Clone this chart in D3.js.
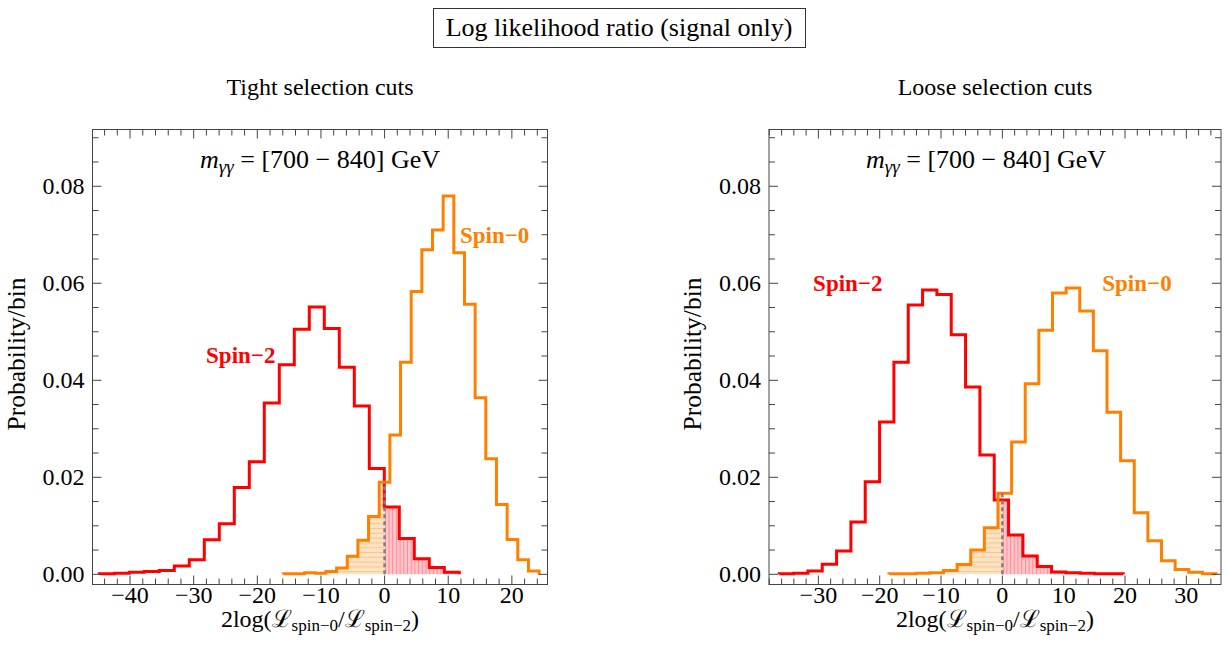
<!DOCTYPE html>
<html>
<head>
<meta charset="utf-8">
<script src="https://cdn.jsdelivr.net/npm/d3@7"></script>
<style>
body { margin: 0; background: #fff; }
text { font-family: "Liberation Serif", "Times New Roman", serif; }
</style>
</head>
<body>
<script>
// histogram bins: [first edge, bin width], then probability per bin
const tightSpin2Bins = [-44.83, 2.357];
const tightSpin2 = [0.0001, 0.0002, 0.0004, 0.0006, 0.0008, 0.0017, 0.0030, 0.0071, 0.0104, 0.0179, 0.0232, 0.0353,
  0.0432, 0.0505, 0.0551, 0.0507, 0.0427, 0.0347, 0.0218, 0.0139, 0.0074, 0.0032, 0.0014, 0.0004];
const tightSpin0Bins = [-15.92, 1.675];
const tightSpin0 = [0.0001, 0.0001, 0.0003, 0.0002, 0.0006, 0.0013, 0.0037, 0.0070, 0.0119, 0.0190, 0.0287, 0.0437,
  0.0583, 0.0669, 0.0710, 0.0780, 0.0663, 0.0557, 0.0364, 0.0238, 0.0144, 0.0072, 0.0030, 0.0007];
const looseSpin2Bins = [-36.38, 2.337];
const looseSpin2 = [0.0001, 0.0002, 0.0007, 0.0021, 0.0048, 0.0108, 0.0191, 0.0314, 0.0437, 0.0555, 0.0586, 0.0577,
  0.0494, 0.0386, 0.0246, 0.0153, 0.0081, 0.0038, 0.0016, 0.0005, 0.0003, 0.0002, 0.0001, 0.0001];
const looseSpin0Bins = [-18.49, 2.222];
const looseSpin0 = [0.0001, 0.0001, 0.0002, 0.0003, 0.0008, 0.0020, 0.0050, 0.0096, 0.0167, 0.0273, 0.0393, 0.0503,
  0.0580, 0.0590, 0.0543, 0.0461, 0.0334, 0.0234, 0.0127, 0.0069, 0.0028, 0.0010, 0.0004, 0.0001];

const yTicks = [0, 0.02, 0.04, 0.06, 0.08];
const tightXTicks = [-40, -30, -20, -10, 0, 10, 20];
const looseXTicks = [-30, -20, -10, 0, 10, 20, 30];

const width = 1227, height = 650;
const red = "#ff0000", orange = "#ff8000";

const svg = d3.select("body").append("svg")
  .attr("width", width)
  .attr("height", height);

//Hatch patterns for the shaded overlap.
const defs = svg.append("defs");
const pOr = defs.append("pattern").attr("id", "hatchOrange")
  .attr("patternUnits", "userSpaceOnUse").attr("width", 8).attr("height", 4.8);
pOr.append("rect").attr("width", 8).attr("height", 4.8).attr("fill", "#fde2c4");
pOr.append("rect").attr("y", 0).attr("width", 8).attr("height", 1).attr("fill", "#f9c48c");
const pRd = defs.append("pattern").attr("id", "hatchRed")
  .attr("patternUnits", "userSpaceOnUse").attr("width", 3.7).attr("height", 8);
pRd.append("rect").attr("width", 3.7).attr("height", 8).attr("fill", "#ffc6ca");
pRd.append("rect").attr("x", 0).attr("width", 1).attr("height", 8).attr("fill", "#ff8a94");

//Title box.
svg.append("text")
  .attr("x", 619).attr("y", 36)
  .attr("text-anchor", "middle")
  .style("font-size", "26px")
  .text("Log likelihood ratio (signal only)");
svg.append("rect")
  .attr("x", 433.5).attr("y", 8.5).attr("width", 372).attr("height", 39)
  .attr("fill", "none").attr("stroke", "#333").attr("stroke-width", 1);

const panels = [
  { id: "t", name: "Tight selection cuts", left: 92.5, right: 547.5, xDomain: [-45.9, 25.6], xTicks: tightXTicks,
    s2: tightSpin2, s2Bins: tightSpin2Bins, s0: tightSpin0, s0Bins: tightSpin0Bins,
    massX: 320, lab2: [-22.6, 0.0452], lab0: [17.3, 0.070] },
  { id: "l", name: "Loose selection cuts", left: 769, right: 1221, xDomain: [-38.05, 35.65], xTicks: looseXTicks,
    s2: looseSpin2, s2Bins: looseSpin2Bins, s0: looseSpin0, s0Bins: looseSpin0Bins,
    massX: 986, lab2: [-25.2, 0.060], lab0: [21.95, 0.060] }
];

const plotTop = 129.5, plotBottom = 584.5;

function steps(bins, probs) {
  const pts = [[bins[0], 0]];
  probs.forEach((p, i) => pts.push([bins[0] + i * bins[1], p]));
  pts.push([bins[0] + probs.length * bins[1], 0]);
  return pts;
}

panels.forEach((p) => {
  const x = d3.scaleLinear().domain(p.xDomain).range([p.left, p.right]);
  const y = d3.scaleLinear().domain([-0.0021, 0.0917]).range([plotBottom, plotTop]);
  const cx = (p.left + p.right) / 2;
  const g = svg.append("g");

  g.append("text").attr("x", cx).attr("y", 95).attr("text-anchor", "middle")
    .style("font-size", "24px").text(p.name);

  const line = d3.line().curve(d3.curveStepAfter).x((d) => x(d[0])).y((d) => y(d[1]));
  const area = d3.area().curve(d3.curveStepAfter).x((d) => x(d[0])).y0(y(0)).y1((d) => y(d[1]));
  const pts2 = steps(p.s2Bins, p.s2);
  const pts0 = steps(p.s0Bins, p.s0);

  //Clip regions left and right of zero.
  defs.append("clipPath").attr("id", "neg" + p.id).append("rect")
    .attr("x", p.left).attr("y", plotTop).attr("width", x(0) - p.left).attr("height", plotBottom - plotTop);
  defs.append("clipPath").attr("id", "pos" + p.id).append("rect")
    .attr("x", x(0)).attr("y", plotTop).attr("width", p.right - x(0)).attr("height", plotBottom - plotTop);

  g.append("path").attr("d", area(pts0)).attr("fill", "url(#hatchOrange)")
    .attr("clip-path", `url(#neg${p.id})`);
  g.append("path").attr("d", area(pts2)).attr("fill", "url(#hatchRed)")
    .attr("clip-path", `url(#pos${p.id})`);

  g.append("path").attr("d", line(pts2)).attr("fill", "none")
    .attr("stroke", red).attr("stroke-width", 3);
  g.append("path").attr("d", line(pts0)).attr("fill", "none")
    .attr("stroke", orange).attr("stroke-width", 3);

  //Dashed marker at zero, up to the spin-0 bin height there.
  const k = Math.floor((0 - p.s0Bins[0]) / p.s0Bins[1]);
  g.append("line").attr("x1", x(0)).attr("x2", x(0)).attr("y1", y(0)).attr("y2", y(p.s0[k]))
    .attr("stroke", "#808080").attr("stroke-width", 2.5).attr("stroke-dasharray", "4,3");

  //Frame.
  g.append("rect").attr("x", p.left).attr("y", plotTop)
    .attr("width", p.right - p.left).attr("height", plotBottom - plotTop)
    .attr("fill", "none").attr("stroke", "#444").attr("stroke-width", 1);

  //Ticks on all four sides.
  const xMinor = d3.range(Math.ceil(p.xDomain[0] / 2) * 2, p.xDomain[1], 2);
  xMinor.forEach((v) => {
    const len = v % 10 === 0 ? 9 : 6;
    g.append("line").attr("x1", x(v)).attr("x2", x(v)).attr("y1", plotBottom).attr("y2", plotBottom - len)
      .attr("stroke", "#444");
    g.append("line").attr("x1", x(v)).attr("x2", x(v)).attr("y1", plotTop).attr("y2", plotTop + len)
      .attr("stroke", "#444");
  });
  const yMinor = d3.range(0, 0.0917, 0.005);
  yMinor.forEach((v, i) => {
    const len = i % 4 === 0 ? 9 : 6;
    g.append("line").attr("x1", p.left).attr("x2", p.left + len).attr("y1", y(v)).attr("y2", y(v))
      .attr("stroke", "#444");
    g.append("line").attr("x1", p.right).attr("x2", p.right - len).attr("y1", y(v)).attr("y2", y(v))
      .attr("stroke", "#444");
  });

  g.selectAll(".xl").data(p.xTicks).join("text")
    .attr("x", (d) => x(d)).attr("y", 603).attr("text-anchor", "middle")
    .style("font-size", "24px")
    .text((d) => d < 0 ? "\u2212" + Math.abs(d) : d);
  g.selectAll(".yl").data(yTicks).join("text")
    .attr("x", p.left - 8).attr("y", (d) => y(d) + 8).attr("text-anchor", "end")
    .style("font-size", "24px")
    .text((d) => d.toFixed(2));

  //Axis labels.
  g.append("text").attr("transform", `translate(${p.left - 68},354) rotate(-90)`)
    .attr("text-anchor", "middle").style("font-size", "25.5px").text("Probability/bin");
  const xl = g.append("text").attr("x", cx).attr("y", 627).attr("text-anchor", "middle")
    .style("font-size", "24px");
  xl.append("tspan").text("2log(\u2112");
  xl.append("tspan").attr("dy", 4).style("font-size", "17px").text("spin\u22120");
  xl.append("tspan").attr("dy", -4).text("/\u2112");
  xl.append("tspan").attr("dy", 4).style("font-size", "17px").text("spin\u22122");
  xl.append("tspan").attr("dy", -4).text(")");

  //Mass window label.
  const ml = g.append("text").attr("x", p.massX).attr("y", 168).attr("text-anchor", "middle")
    .style("font-size", "26px");
  ml.append("tspan").style("font-style", "italic").text("m");
  ml.append("tspan").attr("dy", 5).style("font-style", "italic").style("font-size", "19px").text("\u03b3\u03b3");
  ml.append("tspan").attr("dy", -5).text(" = [700 \u2212 840] GeV");

  //Series labels.
  g.append("text").attr("x", x(p.lab2[0])).attr("y", y(p.lab2[1]) + 8).attr("text-anchor", "middle")
    .style("font-size", "23px").style("font-weight", "bold").attr("fill", red).text("Spin\u22122");
  g.append("text").attr("x", x(p.lab0[0])).attr("y", y(p.lab0[1]) + 8).attr("text-anchor", "middle")
    .style("font-size", "23px").style("font-weight", "bold").attr("fill", orange).text("Spin\u22120");
});
</script>
</body>
</html>
